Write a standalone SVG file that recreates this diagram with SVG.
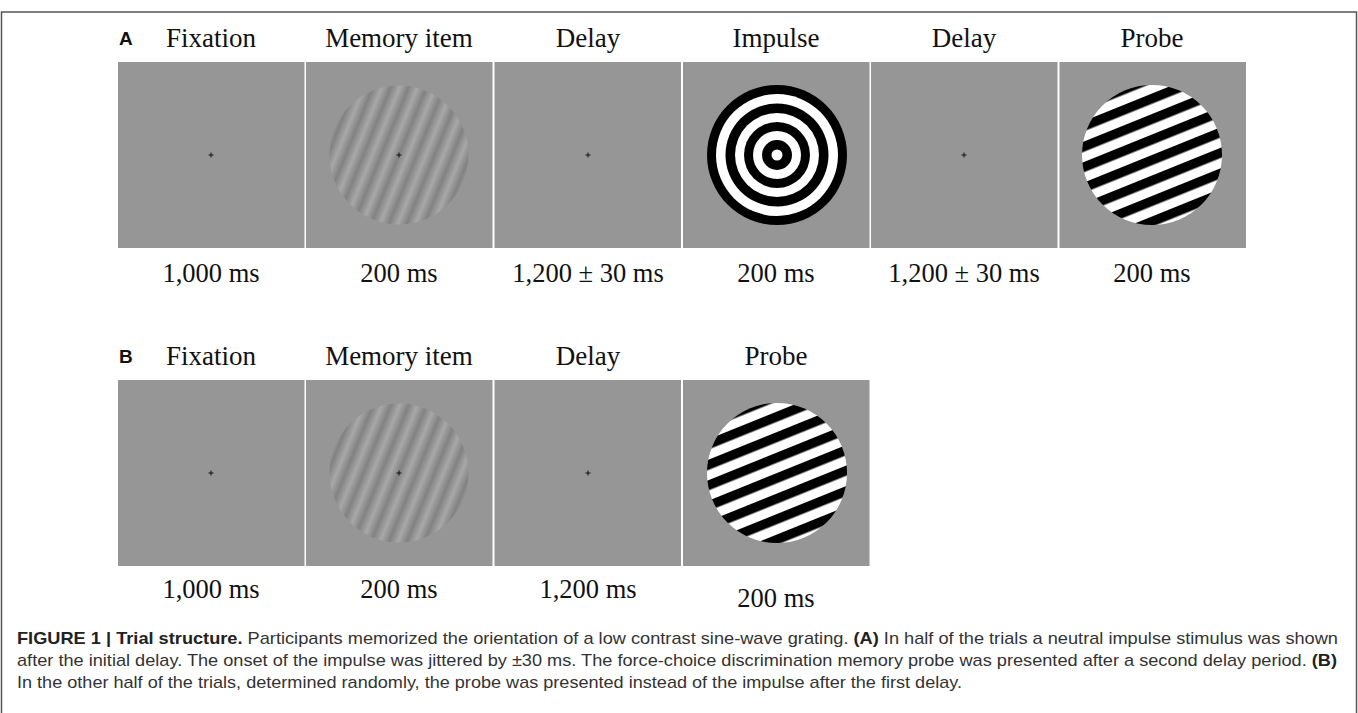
<svg xmlns="http://www.w3.org/2000/svg" width="1358" height="713" viewBox="0 0 1358 713">
<style>
.panel{fill:#969696}
.hdr{font-family:"Liberation Serif","Times New Roman",serif;font-size:27px;fill:#111;text-anchor:middle}
.dur{font-family:"Liberation Serif","Times New Roman",serif;font-size:26.5px;fill:#111;text-anchor:middle}
.lab{font-family:"Liberation Sans",Arial,sans-serif;font-size:19px;font-weight:bold;fill:#111}
.cap{font-family:"Liberation Sans",Arial,sans-serif;font-size:17px;fill:#333}
.b{font-weight:bold;fill:#222}
.fix{stroke:#111;stroke-width:1}
</style>
<defs>
<linearGradient id="gratA" gradientUnits="userSpaceOnUse" x1="0" y1="0" x2="16.5" y2="0" spreadMethod="repeat" gradientTransform="translate(399,155) rotate(22)">
<stop offset="0" stop-color="#828282"/><stop offset="0.5" stop-color="#a8a8a8"/><stop offset="1" stop-color="#828282"/>
</linearGradient>
<linearGradient id="gratB" gradientUnits="userSpaceOnUse" x1="0" y1="0" x2="16.5" y2="0" spreadMethod="repeat" gradientTransform="translate(399,473) rotate(22)">
<stop offset="0" stop-color="#828282"/><stop offset="0.5" stop-color="#a8a8a8"/><stop offset="1" stop-color="#828282"/>
</linearGradient>
<pattern id="probeA" patternUnits="userSpaceOnUse" width="200" height="19" patternTransform="translate(1152,155) rotate(-22)">
<rect x="0" y="0" width="200" height="19" fill="#fff"/><rect x="0" y="0" width="200" height="9.5" fill="#000"/>
</pattern>
<pattern id="probeB" patternUnits="userSpaceOnUse" width="200" height="19" patternTransform="translate(777,473) rotate(-22)">
<rect x="0" y="0" width="200" height="19" fill="#fff"/><rect x="0" y="0" width="200" height="9.5" fill="#000"/>
</pattern>
<g id="cross"><path class="fix" d="M-2.5 0H2.5M0 -2.5V2.5"/></g>
</defs>
<rect width="1358" height="713" fill="#fff"/>
<rect x="1.5" y="12" width="1355" height="720" fill="none" stroke="#555" stroke-width="1.5"/>

<g id="panelA">
<text class="lab" x="119" y="45">A</text>
<g id="A1"><text class="hdr" x="211" y="47">Fixation</text><rect class="panel" x="118" y="62" width="186.5" height="186"/><use href="#cross" x="211" y="155"/><text class="dur" x="211" y="282">1,000 ms</text></g>
<g id="A2"><text class="hdr" x="399" y="47">Memory item</text><rect class="panel" x="306" y="62" width="186.5" height="186"/><circle cx="399" cy="155" r="69.5" fill="url(#gratA)"/><use href="#cross" x="399" y="155"/><text class="dur" x="399" y="282">200 ms</text></g>
<g id="A3"><text class="hdr" x="588" y="47">Delay</text><rect class="panel" x="494.5" y="62" width="186.5" height="186"/><use href="#cross" x="588" y="155"/><text class="dur" x="588" y="282">1,200 ± 30 ms</text></g>
<g id="A4"><text class="hdr" x="776" y="47">Impulse</text><rect class="panel" x="683" y="62" width="186.5" height="186"/>
<circle cx="777" cy="155" r="70" fill="#000"/><circle cx="777" cy="155" r="61" fill="#fff"/><circle cx="777" cy="155" r="51.5" fill="#000"/><circle cx="777" cy="155" r="42" fill="#fff"/><circle cx="777" cy="155" r="33" fill="#000"/><circle cx="777" cy="155" r="24" fill="#fff"/><circle cx="777" cy="155" r="15" fill="#000"/><circle cx="777" cy="155" r="5.5" fill="#fff"/>
<text class="dur" x="776" y="282">200 ms</text></g>
<g id="A5"><text class="hdr" x="964" y="47">Delay</text><rect class="panel" x="871" y="62" width="186.5" height="186"/><use href="#cross" x="964" y="155"/><text class="dur" x="964" y="282">1,200 ± 30 ms</text></g>
<g id="A6"><text class="hdr" x="1152" y="47">Probe</text><rect class="panel" x="1059.5" y="62" width="186.5" height="186"/><circle cx="1152" cy="155" r="70" fill="url(#probeA)"/><text class="dur" x="1152" y="282">200 ms</text></g>
</g>

<g id="panelB">
<text class="lab" x="119" y="363">B</text>
<g id="B1"><text class="hdr" x="211" y="365">Fixation</text><rect class="panel" x="118" y="380" width="186.5" height="186"/><use href="#cross" x="211" y="473"/><text class="dur" x="211" y="598">1,000 ms</text></g>
<g id="B2"><text class="hdr" x="399" y="365">Memory item</text><rect class="panel" x="306" y="380" width="186.5" height="186"/><circle cx="399" cy="473" r="69.5" fill="url(#gratB)"/><use href="#cross" x="399" y="473"/><text class="dur" x="399" y="598">200 ms</text></g>
<g id="B3"><text class="hdr" x="588" y="365">Delay</text><rect class="panel" x="494.5" y="380" width="186.5" height="186"/><use href="#cross" x="588" y="473"/><text class="dur" x="588" y="598">1,200 ms</text></g>
<g id="B4"><text class="hdr" x="776" y="365">Probe</text><rect class="panel" x="683" y="380" width="186.5" height="186"/><circle cx="777" cy="473" r="70" fill="url(#probeB)"/><text class="dur" x="776" y="607">200 ms</text></g>
</g>

<g id="caption">
<text class="cap" x="17" y="644" textLength="1321" lengthAdjust="spacingAndGlyphs"><tspan class="b">FIGURE 1 | Trial structure.</tspan> Participants memorized the orientation of a low contrast sine-wave grating. <tspan class="b">(A)</tspan> In half of the trials a neutral impulse stimulus was shown</text>
<text class="cap" x="17" y="666" textLength="1320" lengthAdjust="spacingAndGlyphs">after the initial delay. The onset of the impulse was jittered by ±30 ms. The force-choice discrimination memory probe was presented after a second delay period. <tspan class="b">(B)</tspan></text>
<text class="cap" x="17" y="688" textLength="945" lengthAdjust="spacingAndGlyphs">In the other half of the trials, determined randomly, the probe was presented instead of the impulse after the first delay.</text>
</g>
</svg>
